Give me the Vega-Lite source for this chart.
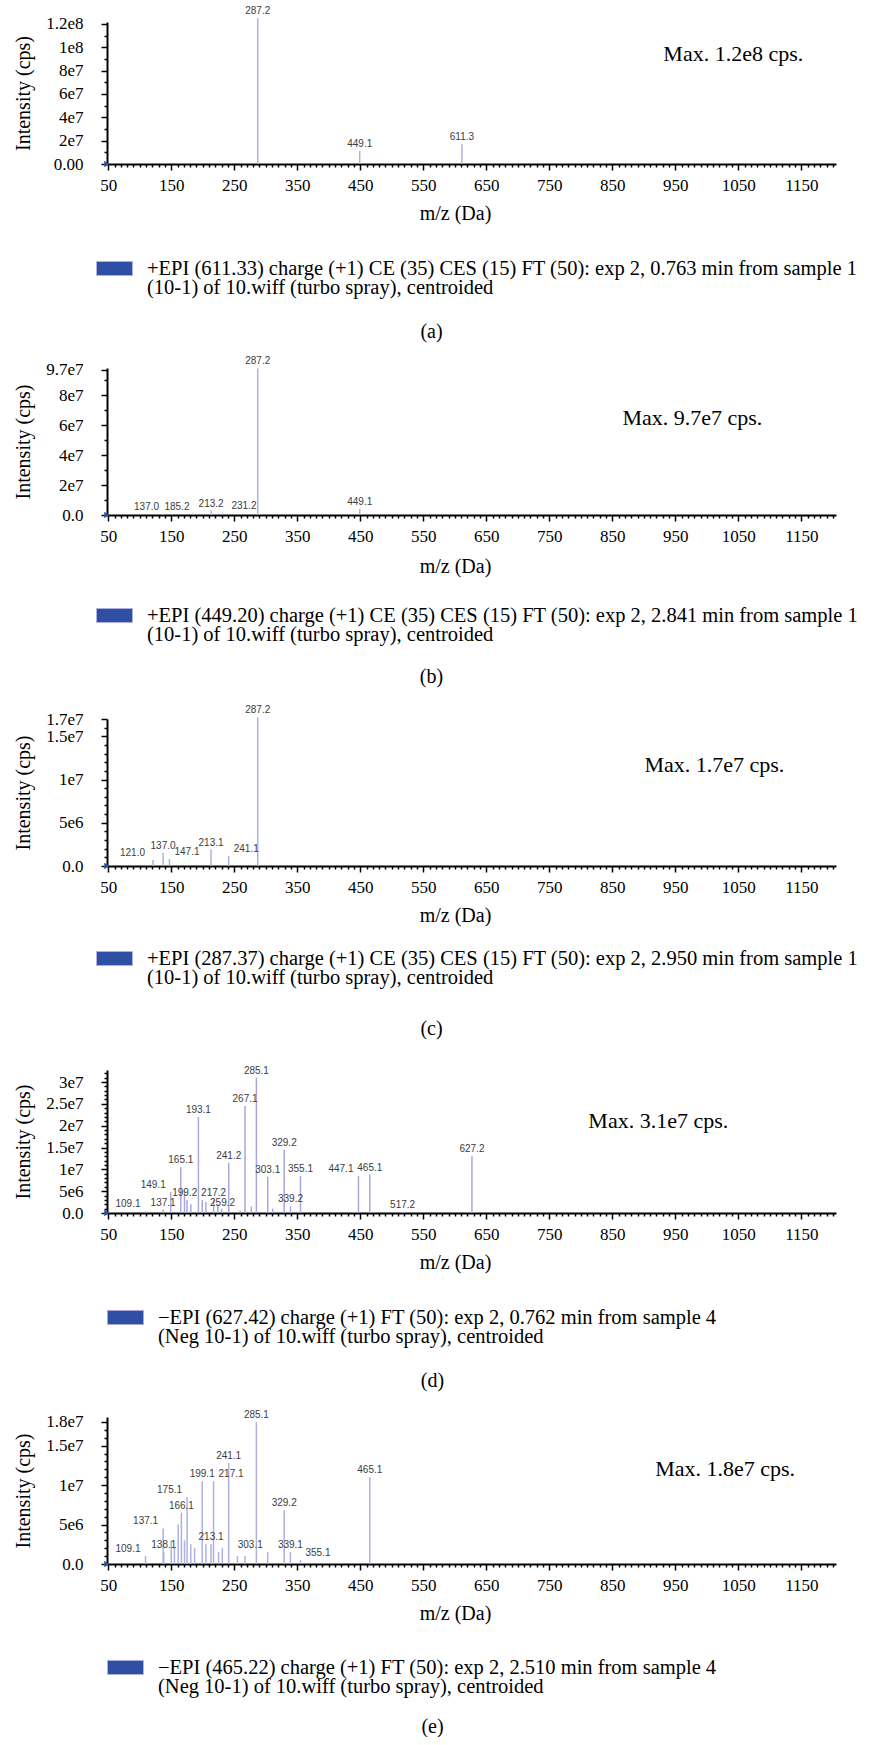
{
  "$schema": "https://vega.github.io/schema/vega-lite/v6.json",
  "background": "white",
  "padding": {"left": 13, "top": 6, "right": 2, "bottom": 0},
  "bounds": "flush",
  "spacing": 204,
  "config": {
    "view": {"stroke": null},
    "font": "Liberation Serif",
    "axis": {"domainColor": "#000", "domainWidth": 2, "tickColor": "#000", "tickWidth": 1.5, "labelFont": "Liberation Serif", "labelColor": "#000", "titleFont": "Liberation Serif", "titleFontSize": 20, "titleFontWeight": "normal", "titleColor": "#000", "grid": false, "labelOverlap": false, "labelFlush": false},
    "axisX": {"labelFontSize": 17},
    "axisY": {"labelFontSize": 17},
    "legend": {"padding": 0, "symbolType": "M-1,-0.39H1V0.39H-1Z", "symbolSize": 1296, "labelFont": "Liberation Serif", "labelFontSize": 20.5, "labelColor": "#000", "labelLimit": 900, "labelOffset": 14},
    "title": {"font": "Liberation Serif", "fontSize": 20, "fontWeight": "normal", "color": "#000"}
  },
  "datasets": {
    "a": [
      {"mz": 287.2, "intensity": 125000000, "label": "287.2"},
      {"mz": 449.1, "intensity": 11000000, "label": "449.1"},
      {"mz": 611.3, "intensity": 17000000, "label": "611.3"}
    ],
    "b": [
      {"mz": 137.0, "intensity": 1000000, "label": "137.0"},
      {"mz": 185.2, "intensity": 1000000, "label": "185.2"},
      {"mz": 213.2, "intensity": 3000000, "label": "213.2"},
      {"mz": 231.2, "intensity": 1500000, "label": "231.2"},
      {"mz": 287.2, "intensity": 98000000, "label": "287.2"},
      {"mz": 449.1, "intensity": 4000000, "label": "449.1"}
    ],
    "c": [
      {"mz": 121.0, "intensity": 700000, "label": "121.0"},
      {"mz": 137.0, "intensity": 1500000, "label": "137.0"},
      {"mz": 147.1, "intensity": 800000, "label": "147.1"},
      {"mz": 213.1, "intensity": 1900000, "label": "213.1"},
      {"mz": 241.1, "intensity": 1150000, "label": "241.1"},
      {"mz": 287.2, "intensity": 17200000, "label": "287.2"}
    ],
    "d": [
      {"mz": 109.1, "intensity": 400000, "label": "109.1"},
      {"mz": 137.1, "intensity": 800000, "label": "137.1"},
      {"mz": 149.1, "intensity": 4800000, "label": "149.1"},
      {"mz": 165.1, "intensity": 10500000, "label": "165.1"},
      {"mz": 171.0, "intensity": 5000000, "label": ""},
      {"mz": 175.0, "intensity": 3000000, "label": ""},
      {"mz": 181.0, "intensity": 2000000, "label": ""},
      {"mz": 193.1, "intensity": 22000000, "label": "193.1"},
      {"mz": 199.2, "intensity": 3000000, "label": "199.2"},
      {"mz": 205.0, "intensity": 2500000, "label": ""},
      {"mz": 217.2, "intensity": 3000000, "label": "217.2"},
      {"mz": 224.0, "intensity": 2000000, "label": ""},
      {"mz": 230.0, "intensity": 1000000, "label": ""},
      {"mz": 241.2, "intensity": 11500000, "label": "241.2"},
      {"mz": 259.2, "intensity": 600000, "label": "259.2"},
      {"mz": 267.1, "intensity": 24500000, "label": "267.1"},
      {"mz": 277.0, "intensity": 1500000, "label": ""},
      {"mz": 285.1, "intensity": 31000000, "label": "285.1"},
      {"mz": 303.1, "intensity": 8300000, "label": "303.1"},
      {"mz": 311.0, "intensity": 1000000, "label": ""},
      {"mz": 329.2, "intensity": 14500000, "label": "329.2"},
      {"mz": 339.2, "intensity": 1500000, "label": "339.2"},
      {"mz": 355.1, "intensity": 8500000, "label": "355.1"},
      {"mz": 447.1, "intensity": 8500000, "label": "447.1"},
      {"mz": 465.1, "intensity": 8800000, "label": "465.1"},
      {"mz": 517.2, "intensity": 300000, "label": "517.2"},
      {"mz": 627.2, "intensity": 13000000, "label": "627.2"}
    ],
    "e": [
      {"mz": 109.1, "intensity": 1000000, "label": "109.1"},
      {"mz": 137.1, "intensity": 4500000, "label": "137.1"},
      {"mz": 138.1, "intensity": 1500000, "label": "138.1"},
      {"mz": 150.0, "intensity": 3000000, "label": ""},
      {"mz": 155.0, "intensity": 2000000, "label": ""},
      {"mz": 161.0, "intensity": 5000000, "label": ""},
      {"mz": 166.1, "intensity": 6500000, "label": "166.1"},
      {"mz": 171.0, "intensity": 3000000, "label": ""},
      {"mz": 175.1, "intensity": 8500000, "label": "175.1"},
      {"mz": 181.0, "intensity": 2500000, "label": ""},
      {"mz": 187.0, "intensity": 2000000, "label": ""},
      {"mz": 199.1, "intensity": 10500000, "label": "199.1"},
      {"mz": 205.0, "intensity": 2500000, "label": ""},
      {"mz": 213.1, "intensity": 2500000, "label": "213.1"},
      {"mz": 217.1, "intensity": 10500000, "label": "217.1"},
      {"mz": 225.0, "intensity": 1500000, "label": ""},
      {"mz": 231.0, "intensity": 2000000, "label": ""},
      {"mz": 241.1, "intensity": 12800000, "label": "241.1"},
      {"mz": 255.0, "intensity": 1000000, "label": ""},
      {"mz": 267.0, "intensity": 1000000, "label": ""},
      {"mz": 285.1, "intensity": 18000000, "label": "285.1"},
      {"mz": 303.1, "intensity": 1500000, "label": "303.1"},
      {"mz": 329.2, "intensity": 6800000, "label": "329.2"},
      {"mz": 339.1, "intensity": 1500000, "label": "339.1"},
      {"mz": 355.1, "intensity": 500000, "label": "355.1"},
      {"mz": 465.1, "intensity": 11000000, "label": "465.1"}
    ]
  },
  "resolve": {"scale": {"x": "independent", "y": "independent", "color": "independent"}, "legend": {"color": "independent"}},
  "vconcat": [
    {
      "width": 729, "height": 142,
      "data": {"name": "a"},
      "title": {"text": "(a)", "orient": "bottom", "offset": 24, "anchor": "middle", "frame": "group", "dx": -40},
      "layer": [
        {
          "mark": {"type": "rule", "strokeWidth": 1.5},
          "encoding": {
            "x": {"field": "mz", "type": "quantitative", "scale": {"domain": [48, 1205], "nice": false, "zero": false},
              "axis": {"title": "m/z (Da)", "titleX": 348, "tickCount": 116, "format": "d", "labelOverlap": false, "labelExpr": "(datum.value - 50) % 100 == 0 ? datum.label : ''", "tickSize": {"condition": {"test": "(datum.value - 50) % 100 == 0", "value": 6}, "value": 3}, "labelPadding": 7, "titlePadding": 10}},
            "y": {"field": "intensity", "type": "quantitative", "scale": {"domain": [0, 121700000], "nice": false},
              "axis": {"title": "Intensity (cps)", "tickCount": 200, "labelOverlap": false, "values": [0, 1e7, 2e7, 3e7, 4e7, 5e7, 6e7, 7e7, 8e7, 9e7, 1e8, 1.1e8, 1.2e8], "labelExpr": "datum.value % 20000000 != 0 ? '' : (datum.value == 0 ? '0.00' : replace(format(datum.value, '.2~e'), 'e+', 'e'))", "tickSize": {"condition": {"test": "datum.value % 20000000 == 0", "value": 6}, "value": 3}, "labelPadding": 18, "titlePadding": 12}},
            "y2": {"datum": 0},
            "color": {"datum": "+EPI (611.33) charge (+1) CE (35) CES (15) FT (50): exp 2, 0.763 min from sample 1|(10-1) of 10.wiff (turbo spray), centroided", "scale": {"range": ["#b0b0e0"]},
              "legend": {"title": null, "orient": "none", "legendX": -11, "legendY": 228, "labelExpr": "split(datum.label, '|')", "encode": {"symbols": {"update": {"fill": {"value": "#2e4fa3"}, "stroke": {"value": "#1c1c3c"}, "strokeWidth": {"value": 1}, "opacity": {"value": 1}}}, "labels": {"update": {"dy": {"value": 0}, "lineHeight": {"value": 19}}}}}}
          }
        },
        {
          "transform": [{"filter": "datum.label != ''"}],
          "mark": {"type": "text", "baseline": "bottom", "dy": -2, "font": "Liberation Sans", "fontSize": 10, "color": "#3c3c3c"},
          "encoding": {"x": {"field": "mz", "type": "quantitative"}, "y": {"field": "intensity", "type": "quantitative"}, "text": {"field": "label"}}
        },
        {
          "data": {"values": [{}]},
          "mark": {"type": "text", "text": "Max. 1.2e8 cps.", "font": "Liberation Serif", "fontSize": 22, "align": "center", "baseline": "middle", "color": "#000"},
          "encoding": {"x": {"datum": 1042}, "y": {"datum": 94000000}}
        },
        {
          "data": {"values": [{}]},
          "mark": {"type": "point", "shape": "triangle-right", "filled": true, "size": 40, "color": "#2e4fa3", "opacity": 1},
          "encoding": {"x": {"datum": 48}, "y": {"datum": 0}}
        }
      ]
    },
    {
      "width": 729, "height": 147,
      "data": {"name": "b"},
      "title": {"text": "(b)", "orient": "bottom", "offset": 22, "anchor": "middle", "frame": "group", "dx": -40},
      "layer": [
        {
          "mark": {"type": "rule", "strokeWidth": 1.5},
          "encoding": {
            "x": {"field": "mz", "type": "quantitative", "scale": {"domain": [48, 1205], "nice": false, "zero": false},
              "axis": {"title": "m/z (Da)", "titleX": 348, "tickCount": 116, "format": "d", "labelOverlap": false, "labelExpr": "(datum.value - 50) % 100 == 0 ? datum.label : ''", "tickSize": {"condition": {"test": "(datum.value - 50) % 100 == 0", "value": 6}, "value": 3}, "labelPadding": 7, "titlePadding": 12}},
            "y": {"field": "intensity", "type": "quantitative", "scale": {"domain": [0, 98300000], "nice": false},
              "axis": {"title": "Intensity (cps)", "tickCount": 200, "labelOverlap": false, "values": [0, 1e7, 2e7, 3e7, 4e7, 5e7, 6e7, 7e7, 8e7, 9e7, 9.7e7], "labelExpr": "(datum.value % 20000000 != 0 && datum.value != 97000000) ? '' : (datum.value == 0 ? '0.0' : replace(format(datum.value, '.2~e'), 'e+', 'e'))", "tickSize": {"condition": {"test": "datum.value % 20000000 == 0 || datum.value == 97000000", "value": 6}, "value": 3}, "labelPadding": 18, "titlePadding": 12}},
            "y2": {"datum": 0},
            "color": {"datum": "+EPI (449.20) charge (+1) CE (35) CES (15) FT (50): exp 2, 2.841 min from sample 1|(10-1) of 10.wiff (turbo spray), centroided", "scale": {"range": ["#b0b0e0"]},
              "legend": {"title": null, "orient": "none", "legendX": -11, "legendY": 229, "labelExpr": "split(datum.label, '|')", "encode": {"symbols": {"update": {"fill": {"value": "#2e4fa3"}, "stroke": {"value": "#1c1c3c"}, "strokeWidth": {"value": 1}, "opacity": {"value": 1}}}, "labels": {"update": {"dy": {"value": 0}, "lineHeight": {"value": 19}}}}}}
          }
        },
        {
          "transform": [{"filter": "datum.label != '' && indexof(['137.0','185.2','231.2'], datum.label) < 0"}],
          "mark": {"type": "text", "baseline": "bottom", "dy": -2, "font": "Liberation Sans", "fontSize": 10, "color": "#3c3c3c"},
          "encoding": {"x": {"field": "mz", "type": "quantitative"}, "y": {"field": "intensity", "type": "quantitative"}, "text": {"field": "label"}}
        },
        {
          "transform": [{"filter": "indexof(['137.0','185.2'], datum.label) >= 0"}],
          "mark": {"type": "text", "baseline": "bottom", "align": "right", "dx": -4, "dy": -2, "font": "Liberation Sans", "fontSize": 10, "color": "#3c3c3c"},
          "encoding": {"x": {"field": "mz", "type": "quantitative"}, "y": {"field": "intensity", "type": "quantitative"}, "text": {"field": "label"}}
        },
        {
          "transform": [{"filter": "indexof(['231.2'], datum.label) >= 0"}],
          "mark": {"type": "text", "baseline": "bottom", "align": "left", "dx": 9, "dy": -2, "font": "Liberation Sans", "fontSize": 10, "color": "#3c3c3c"},
          "encoding": {"x": {"field": "mz", "type": "quantitative"}, "y": {"field": "intensity", "type": "quantitative"}, "text": {"field": "label"}}
        },
        {
          "data": {"values": [{}]},
          "mark": {"type": "text", "text": "Max. 9.7e7 cps.", "font": "Liberation Serif", "fontSize": 22, "align": "center", "baseline": "middle", "color": "#000"},
          "encoding": {"x": {"datum": 977}, "y": {"datum": 65000000}}
        },
        {
          "data": {"values": [{}]},
          "mark": {"type": "point", "shape": "triangle-right", "filled": true, "size": 40, "color": "#2e4fa3", "opacity": 1},
          "encoding": {"x": {"datum": 48}, "y": {"datum": 0}}
        }
      ]
    },
    {
      "width": 729, "height": 147,
      "data": {"name": "c"},
      "title": {"text": "(c)", "orient": "bottom", "offset": 31, "anchor": "middle", "frame": "group", "dx": -40},
      "layer": [
        {
          "mark": {"type": "rule", "strokeWidth": 1.5},
          "encoding": {
            "x": {"field": "mz", "type": "quantitative", "scale": {"domain": [48, 1205], "nice": false, "zero": false},
              "axis": {"title": "m/z (Da)", "titleX": 348, "tickCount": 116, "format": "d", "labelOverlap": false, "labelExpr": "(datum.value - 50) % 100 == 0 ? datum.label : ''", "tickSize": {"condition": {"test": "(datum.value - 50) % 100 == 0", "value": 6}, "value": 3}, "labelPadding": 7, "titlePadding": 10}},
            "y": {"field": "intensity", "type": "quantitative", "scale": {"domain": [0, 17000000], "nice": false},
              "axis": {"title": "Intensity (cps)", "tickCount": 200, "labelOverlap": false, "values": [0, 1e6, 2e6, 3e6, 4e6, 5e6, 6e6, 7e6, 8e6, 9e6, 1e7, 1.1e7, 1.2e7, 1.3e7, 1.4e7, 1.5e7, 1.6e7, 1.7e7], "labelExpr": "(datum.value % 5000000 != 0 && datum.value != 17000000) ? '' : (datum.value == 0 ? '0.0' : replace(format(datum.value, '.2~e'), 'e+', 'e'))", "tickSize": {"condition": {"test": "datum.value % 5000000 == 0 || datum.value == 17000000", "value": 6}, "value": 3}, "labelPadding": 18, "titlePadding": 12}},
            "y2": {"datum": 0},
            "color": {"datum": "+EPI (287.37) charge (+1) CE (35) CES (15) FT (50): exp 2, 2.950 min from sample 1|(10-1) of 10.wiff (turbo spray), centroided", "scale": {"range": ["#b0b0e0"]},
              "legend": {"title": null, "orient": "none", "legendX": -11, "legendY": 221, "labelExpr": "split(datum.label, '|')", "encode": {"symbols": {"update": {"fill": {"value": "#2e4fa3"}, "stroke": {"value": "#1c1c3c"}, "strokeWidth": {"value": 1}, "opacity": {"value": 1}}}, "labels": {"update": {"dy": {"value": 0}, "lineHeight": {"value": 19}}}}}}
          }
        },
        {
          "transform": [{"filter": "datum.label != '' && indexof(['121.0','147.1','241.1'], datum.label) < 0"}],
          "mark": {"type": "text", "baseline": "bottom", "dy": -2, "font": "Liberation Sans", "fontSize": 10, "color": "#3c3c3c"},
          "encoding": {"x": {"field": "mz", "type": "quantitative"}, "y": {"field": "intensity", "type": "quantitative"}, "text": {"field": "label"}}
        },
        {
          "transform": [{"filter": "indexof(['121.0'], datum.label) >= 0"}],
          "mark": {"type": "text", "baseline": "bottom", "align": "right", "dx": -8, "dy": -2, "font": "Liberation Sans", "fontSize": 10, "color": "#3c3c3c"},
          "encoding": {"x": {"field": "mz", "type": "quantitative"}, "y": {"field": "intensity", "type": "quantitative"}, "text": {"field": "label"}}
        },
        {
          "transform": [{"filter": "indexof(['147.1','241.1'], datum.label) >= 0"}],
          "mark": {"type": "text", "baseline": "bottom", "align": "left", "dx": 5, "dy": -2, "font": "Liberation Sans", "fontSize": 10, "color": "#3c3c3c"},
          "encoding": {"x": {"field": "mz", "type": "quantitative"}, "y": {"field": "intensity", "type": "quantitative"}, "text": {"field": "label"}}
        },
        {
          "data": {"values": [{}]},
          "mark": {"type": "text", "text": "Max. 1.7e7 cps.", "font": "Liberation Serif", "fontSize": 22, "align": "center", "baseline": "middle", "color": "#000"},
          "encoding": {"x": {"datum": 1012}, "y": {"datum": 11700000}}
        },
        {
          "data": {"values": [{}]},
          "mark": {"type": "point", "shape": "triangle-right", "filled": true, "size": 40, "color": "#2e4fa3", "opacity": 1},
          "encoding": {"x": {"datum": 48}, "y": {"datum": 0}}
        }
      ]
    },
    {
      "width": 729, "height": 143,
      "data": {"name": "d"},
      "title": {"text": "(d)", "orient": "bottom", "offset": 24, "anchor": "middle", "frame": "group", "dx": -39},
      "layer": [
        {
          "mark": {"type": "rule", "strokeWidth": 1.5},
          "encoding": {
            "x": {"field": "mz", "type": "quantitative", "scale": {"domain": [48, 1205], "nice": false, "zero": false},
              "axis": {"title": "m/z (Da)", "titleX": 348, "tickCount": 116, "format": "d", "labelOverlap": false, "labelExpr": "(datum.value - 50) % 100 == 0 ? datum.label : ''", "tickSize": {"condition": {"test": "(datum.value - 50) % 100 == 0", "value": 6}, "value": 3}, "labelPadding": 7, "titlePadding": 10}},
            "y": {"field": "intensity", "type": "quantitative", "scale": {"domain": [0, 32750000], "nice": false},
              "axis": {"title": "Intensity (cps)", "tickCount": 200, "labelOverlap": false, "values": [0, 1e6, 2e6, 3e6, 4e6, 5e6, 6e6, 7e6, 8e6, 9e6, 1e7, 1.1e7, 1.2e7, 1.3e7, 1.4e7, 1.5e7, 1.6e7, 1.7e7, 1.8e7, 1.9e7, 2e7, 2.1e7, 2.2e7, 2.3e7, 2.4e7, 2.5e7, 2.6e7, 2.7e7, 2.8e7, 2.9e7, 3e7, 3.1e7, 3.2e7], "labelExpr": "datum.value % 5000000 != 0 ? '' : (datum.value == 0 ? '0.0' : replace(format(datum.value, '.2~e'), 'e+', 'e'))", "tickSize": {"condition": {"test": "datum.value % 5000000 == 0", "value": 6}, "value": 3}, "labelPadding": 18, "titlePadding": 12}},
            "y2": {"datum": 0},
            "color": {"datum": "−EPI (627.42) charge (+1) FT (50): exp 2, 0.762 min from sample 4|(Neg 10-1) of 10.wiff (turbo spray), centroided", "scale": {"range": ["#a8a8dc"]},
              "legend": {"title": null, "orient": "none", "legendX": 0, "legendY": 229, "labelExpr": "split(datum.label, '|')", "encode": {"symbols": {"update": {"fill": {"value": "#2e4fa3"}, "stroke": {"value": "#1c1c3c"}, "strokeWidth": {"value": 1}, "opacity": {"value": 1}}}, "labels": {"update": {"dy": {"value": 0}, "lineHeight": {"value": 19}}}}}}
          }
        },
        {
          "transform": [{"filter": "datum.label != '' && indexof(['109.1','149.1','199.2','259.2','447.1'], datum.label) < 0"}],
          "mark": {"type": "text", "baseline": "bottom", "dy": -2, "font": "Liberation Sans", "fontSize": 10, "color": "#3c3c3c"},
          "encoding": {"x": {"field": "mz", "type": "quantitative"}, "y": {"field": "intensity", "type": "quantitative"}, "text": {"field": "label"}}
        },
        {
          "transform": [{"filter": "indexof(['109.1','149.1','199.2','259.2','447.1'], datum.label) >= 0"}],
          "mark": {"type": "text", "baseline": "bottom", "align": "right", "dx": -5, "dy": -2, "font": "Liberation Sans", "fontSize": 10, "color": "#3c3c3c"},
          "encoding": {"x": {"field": "mz", "type": "quantitative"}, "y": {"field": "intensity", "type": "quantitative"}, "text": {"field": "label"}}
        },
        {
          "data": {"values": [{}]},
          "mark": {"type": "text", "text": "Max. 3.1e7 cps.", "font": "Liberation Serif", "fontSize": 22, "align": "center", "baseline": "middle", "color": "#000"},
          "encoding": {"x": {"datum": 923}, "y": {"datum": 21000000}}
        },
        {
          "data": {"values": [{}]},
          "mark": {"type": "point", "shape": "triangle-right", "filled": true, "size": 40, "color": "#2e4fa3", "opacity": 1},
          "encoding": {"x": {"datum": 48}, "y": {"datum": 0}}
        }
      ]
    },
    {
      "width": 729, "height": 147,
      "data": {"name": "e"},
      "title": {"text": "(e)", "orient": "bottom", "offset": 20, "anchor": "middle", "frame": "group", "dx": -39},
      "layer": [
        {
          "mark": {"type": "rule", "strokeWidth": 1.5},
          "encoding": {
            "x": {"field": "mz", "type": "quantitative", "scale": {"domain": [48, 1205], "nice": false, "zero": false},
              "axis": {"title": "m/z (Da)", "titleX": 348, "tickCount": 116, "format": "d", "labelOverlap": false, "labelExpr": "(datum.value - 50) % 100 == 0 ? datum.label : ''", "tickSize": {"condition": {"test": "(datum.value - 50) % 100 == 0", "value": 6}, "value": 3}, "labelPadding": 7, "titlePadding": 10}},
            "y": {"field": "intensity", "type": "quantitative", "scale": {"domain": [0, 18630000], "nice": false},
              "axis": {"title": "Intensity (cps)", "tickCount": 200, "labelOverlap": false, "values": [0, 1e6, 2e6, 3e6, 4e6, 5e6, 6e6, 7e6, 8e6, 9e6, 1e7, 1.1e7, 1.2e7, 1.3e7, 1.4e7, 1.5e7, 1.6e7, 1.7e7, 1.8e7], "labelExpr": "(datum.value % 5000000 != 0 && datum.value != 18000000) ? '' : (datum.value == 0 ? '0.0' : replace(format(datum.value, '.2~e'), 'e+', 'e'))", "tickSize": {"condition": {"test": "datum.value % 5000000 == 0 || datum.value == 18000000", "value": 6}, "value": 3}, "labelPadding": 18, "titlePadding": 12}},
            "y2": {"datum": 0},
            "color": {"datum": "−EPI (465.22) charge (+1) FT (50): exp 2, 2.510 min from sample 4|(Neg 10-1) of 10.wiff (turbo spray), centroided", "scale": {"range": ["#b0b0e0"]},
              "legend": {"title": null, "orient": "none", "legendX": 0, "legendY": 232, "labelExpr": "split(datum.label, '|')", "encode": {"symbols": {"update": {"fill": {"value": "#2e4fa3"}, "stroke": {"value": "#1c1c3c"}, "strokeWidth": {"value": 1}, "opacity": {"value": 1}}}, "labels": {"update": {"dy": {"value": 0}, "lineHeight": {"value": 19}}}}}}
          }
        },
        {
          "transform": [{"filter": "datum.label != '' && indexof(['109.1','137.1','175.1','303.1','217.1','355.1'], datum.label) < 0"}],
          "mark": {"type": "text", "baseline": "bottom", "dy": -2, "font": "Liberation Sans", "fontSize": 10, "color": "#3c3c3c"},
          "encoding": {"x": {"field": "mz", "type": "quantitative"}, "y": {"field": "intensity", "type": "quantitative"}, "text": {"field": "label"}}
        },
        {
          "transform": [{"filter": "indexof(['109.1','137.1','175.1','303.1'], datum.label) >= 0"}],
          "mark": {"type": "text", "baseline": "bottom", "align": "right", "dx": -5, "dy": -2, "font": "Liberation Sans", "fontSize": 10, "color": "#3c3c3c"},
          "encoding": {"x": {"field": "mz", "type": "quantitative"}, "y": {"field": "intensity", "type": "quantitative"}, "text": {"field": "label"}}
        },
        {
          "transform": [{"filter": "indexof(['217.1','355.1'], datum.label) >= 0"}],
          "mark": {"type": "text", "baseline": "bottom", "align": "left", "dx": 5, "dy": -2, "font": "Liberation Sans", "fontSize": 10, "color": "#3c3c3c"},
          "encoding": {"x": {"field": "mz", "type": "quantitative"}, "y": {"field": "intensity", "type": "quantitative"}, "text": {"field": "label"}}
        },
        {
          "data": {"values": [{}]},
          "mark": {"type": "text", "text": "Max. 1.8e7 cps.", "font": "Liberation Serif", "fontSize": 22, "align": "center", "baseline": "middle", "color": "#000"},
          "encoding": {"x": {"datum": 1029}, "y": {"datum": 12000000}}
        },
        {
          "data": {"values": [{}]},
          "mark": {"type": "point", "shape": "triangle-right", "filled": true, "size": 40, "color": "#2e4fa3", "opacity": 1},
          "encoding": {"x": {"datum": 48}, "y": {"datum": 0}}
        }
      ]
    }
  ]
}
